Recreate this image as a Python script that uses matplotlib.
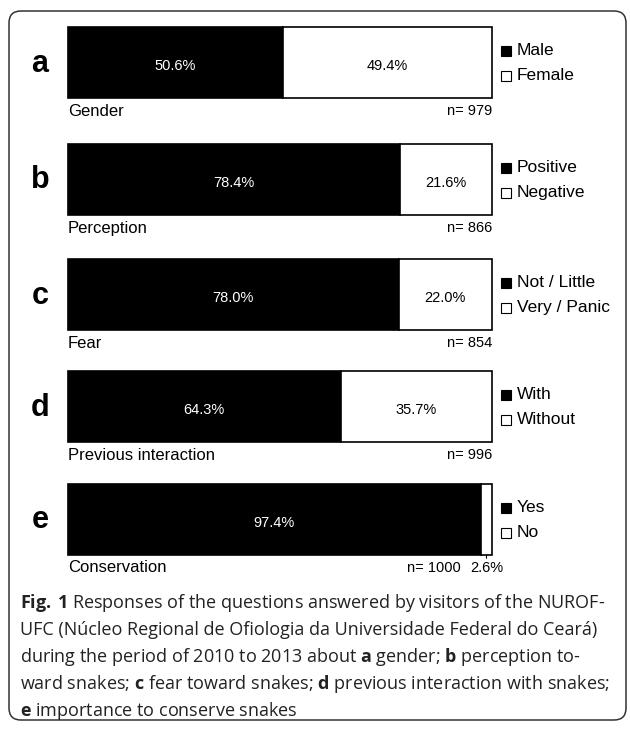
import matplotlib
matplotlib.use('Agg')
import matplotlib.pyplot as plt
from matplotlib.patches import FancyBboxPatch

# data
letters = ['a', 'b', 'c', 'd', 'e']
questions = ['Gender', 'Perception', 'Fear', 'Previous interaction', 'Conservation']
firstPct = [50.6, 78.4, 78.0, 64.3, 97.4]
secondPct = [49.4, 21.6, 22.0, 35.7, 2.6]
nValues = [979, 866, 854, 996, 1000]
firstLabels = ['Male', 'Positive', 'Not / Little', 'With', 'Yes']
secondLabels = ['Female', 'Negative', 'Very / Panic', 'Without', 'No']

caption = [
    r'$\mathbf{Fig.\,1}$ Responses of the questions answered by visitors of the NUROF-',
    r'UFC (Núcleo Regional de Ofiologia da Universidade Federal do Ceará)',
    r'during the period of 2010 to 2013 about $\mathbf{a}$ gender; $\mathbf{b}$ perception to-',
    r'ward snakes; $\mathbf{c}$ fear toward snakes; $\mathbf{d}$ previous interaction with snakes;',
    r'$\mathbf{e}$ importance to conserve snakes',
]

plt.rcParams['font.family'] = 'Liberation Sans'
plt.rcParams['mathtext.fontset'] = 'custom'
plt.rcParams['mathtext.rm'] = 'Open Sans'
plt.rcParams['mathtext.bf'] = 'Open Sans:bold'

W, H = 630, 730
fig = plt.figure(figsize=(W / 100, H / 100), dpi=100)

# overlay in pixel units for labels and the frame
ov = fig.add_axes([0, 0, 1, 1])
ov.set_xlim(0, W)
ov.set_ylim(H, 0)
ov.axis('off')

frame = FancyBboxPatch((9, 11), 617, 709, boxstyle='round,pad=0,rounding_size=12',
                       facecolor='none', edgecolor='#333333', lw=1.1)
ov.add_patch(frame)

barLeft, barRight = 68, 492
barTops = [27, 144, 259, 371, 484]
barH = 71

for i in range(len(letters)):
    top = barTops[i]
    mid = top + barH / 2
    ax = fig.add_axes([barLeft / W, 1 - (top + barH) / H, (barRight - barLeft) / W, barH / H])
    ax.barh(0, firstPct[i], height=1, color='black', edgecolor='black', lw=1.2, clip_on=False)
    ax.barh(0, secondPct[i], left=firstPct[i], height=1, color='white', edgecolor='black',
            lw=1.2, clip_on=False)
    ax.set_xlim(0, 100)
    ax.set_ylim(-0.5, 0.5)
    ax.axis('off')

    ax.text(firstPct[i] / 2, -0.05, '%.1f%%' % firstPct[i], color='white',
            ha='center', va='center', fontsize=10.5)
    if secondPct[i] > 5:
        ax.text(firstPct[i] + secondPct[i] / 2, -0.05, '%.1f%%' % secondPct[i], color='black',
                ha='center', va='center', fontsize=10.5)
        nx = barRight
    else:
        ax.annotate('%.1f%%' % secondPct[i], xy=(firstPct[i] + secondPct[i] / 2, -0.5),
                    xytext=(0, -13), textcoords='offset pixels', ha='center', va='center',
                    fontsize=10.5, arrowprops=dict(arrowstyle='-', lw=0.8, shrinkA=0, shrinkB=0))
        nx = 461

    ov.text(40, mid + 1, letters[i], fontsize=22, fontweight='bold', ha='center', va='center')
    ov.text(barLeft, top + barH + 13, questions[i], fontsize=12, ha='left', va='center')
    ov.text(nx, top + barH + 13, 'n= %d' % nValues[i], fontsize=10.5, ha='right', va='center')

    ov.plot([506], [mid - 12], marker='s', ms=6.5, mfc='black', mec='black', mew=0.8)
    ov.plot([506], [mid + 13], marker='s', ms=6.5, mfc='white', mec='black', mew=0.8)
    ov.text(517, mid - 12, firstLabels[i], fontsize=12.5, ha='left', va='center')
    ov.text(517, mid + 13, secondLabels[i], fontsize=12.5, ha='left', va='center')

for k, line in enumerate(caption):
    ov.text(20, 603 + 27 * k, line, fontsize=13, family='Open Sans', color='#222222',
            ha='left', va='center')

fig.savefig('out.png', dpi=100)
